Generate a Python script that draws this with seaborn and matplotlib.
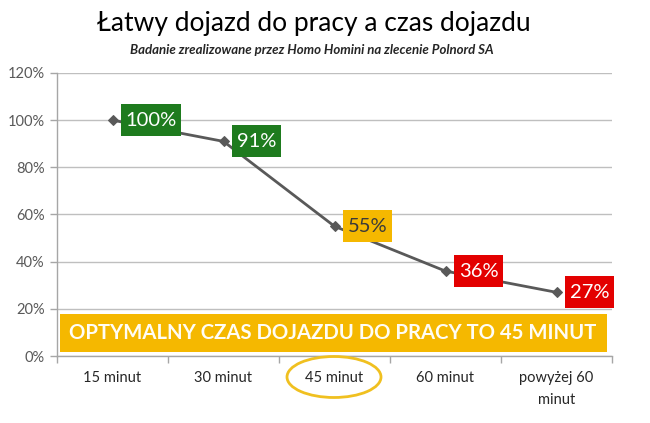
import matplotlib
matplotlib.use("Agg")
import matplotlib.pyplot as plt
import seaborn as sns
import pandas as pd
from matplotlib.patches import Rectangle, Ellipse
from matplotlib.path import Path
from matplotlib.ticker import FuncFormatter, MultipleLocator, FixedLocator

categories = ["15 minut", "30 minut", "45 minut", "60 minut", "powyżej 60\nminut"]
values = [100, 91, 55, 36, 27]
label_colors = ["#1e7b1e", "#1e7b1e", "#f5b800", "#e30000", "#e30000"]
label_text_colors = ["white", "white", "#3a3a3a", "white", "white"]
title = "Łatwy dojazd do pracy a czas dojazdu"
subtitle = "Badanie zrealizowane przez Homo Homini na zlecenie Polnord SA"
banner = "OPTYMALNY CZAS DOJAZDU DO PRACY TO 45 MINUT"

sns.set_style("white")
plt.rcParams["font.family"] = ["Lato", "DejaVu Sans"]

df = pd.DataFrame({"cat": categories, "val": values})

fig = plt.figure(figsize=(6.5, 4.23), dpi=100)
W, H = 650, 423
ax = fig.add_axes([57 / W, 1 - 356 / H, (612 - 57) / W, (356 - 73) / H])

sns.lineplot(data=df, x="cat", y="val", sort=False, marker="D", markersize=5,
             color="#595959", linewidth=2, markeredgecolor="#595959", ax=ax)

ax.set_ylim(0, 120)
ax.set_xlim(-0.5, len(categories) - 0.5)
ax.yaxis.set_major_locator(MultipleLocator(20))
ax.yaxis.set_major_formatter(FuncFormatter(lambda v, p: f"{int(v)}%"))
ax.grid(axis="y", color="#bfbfbf", linewidth=1)
ax.set_axisbelow(True)
ax.set_xlabel("")
ax.set_ylabel("")

for s in ["top", "right"]:
    ax.spines[s].set_visible(False)
for s in ["left", "bottom"]:
    ax.spines[s].set_color("#a6a6a6")
    ax.spines[s].set_linewidth(1)

ax.tick_params(axis="y", colors="#a6a6a6", labelcolor="#595959", labelsize=10.5,
               length=5, width=1, direction="out", left=True, pad=4)
ax.set_xticks(range(len(categories)))
ax.set_xticklabels(categories, linespacing=1.7)
ax.tick_params(axis="x", which="major", length=0, labelsize=10.5, labelcolor="#262626", pad=11)
ax.xaxis.set_minor_locator(FixedLocator([i - 0.5 for i in range(len(categories) + 1)]))
ax.tick_params(axis="x", which="minor", length=5, width=1, color="#a6a6a6", direction="out", bottom=True)


def box_style(x0, y0, width, height, mutation_size):
    padx = 0.22 * mutation_size
    pady = 0.37 * mutation_size
    x0 -= padx
    y0 -= pady
    x1 = x0 + width + 2 * padx
    y1 = y0 + height + 2 * pady
    return Path([(x0, y0), (x1, y0), (x1, y1), (x0, y1), (x0, y0)], closed=True)


for i, (v, bc, tc) in enumerate(zip(values, label_colors, label_text_colors)):
    ax.annotate(f"{v}%", xy=(i, v), xytext=(9.5, 0), textcoords="offset points",
                ha="left", va="center", fontsize=14.5, color=tc,
                bbox=dict(boxstyle=box_style, fc=bc, ec="none"))

# banner
fig.patches.append(Rectangle((60 / W, 1 - 352 / H), (607 - 60) / W, (352 - 314) / H,
                             transform=fig.transFigure, fc="#f5b800", ec="none", zorder=5))
fig.text(333 / W, 1 - 333 / H, banner, ha="center", va="center", fontsize=14.6,
         fontweight="bold", color="#fffdf5", zorder=6)

# ellipse around 45 minut
fig.patches.append(Ellipse((334 / W, 1 - 377 / H), 94 / W, 41 / H, transform=fig.transFigure,
                           fc="none", ec="#f0c020", lw=2, zorder=6))

fig.text(314 / W, 1 - 24 / H, title, ha="center", va="center", fontsize=19, color="black")
fig.text(312 / W, 1 - 50 / H, subtitle, ha="center", va="center", fontsize=9.5,
         fontweight="bold", style="italic", color="#262626")

fig.savefig("out.png", dpi=100)
